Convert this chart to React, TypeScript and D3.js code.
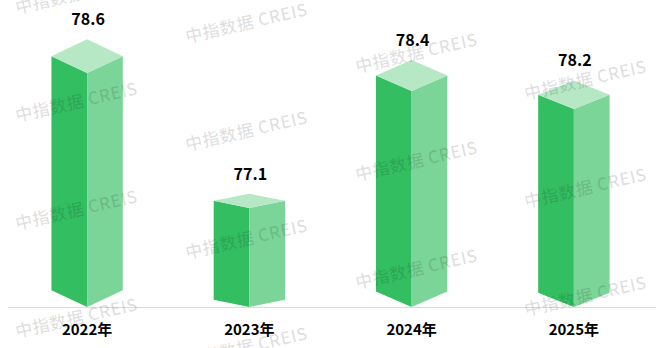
import React from "react";
import * as d3 from "d3";

// Annual index values
const categories = ["2022年", "2023年", "2024年", "2025年"];
const values = [78.6, 77.1, 78.4, 78.2];
const valueLabels = ["78.6", "77.1", "78.4", "78.2"];
const yDomain = [76, 79];

const WIDTH = 661;
const HEIGHT = 348;
const BASELINE = 307;
const TOP = 37;

const COLOR_LEFT = "#34be62";
const COLOR_RIGHT = "#7cd598";
const COLOR_TOP = "#b6e8c6";

const FONT = "'Noto Sans CJK SC', 'Liberation Sans', Arial, sans-serif";

export default function App() {
  const x = d3.scaleBand<string>().domain(categories).range([6, 655]).padding(0);
  const y = d3.scaleLinear().domain(yDomain).range([BASELINE, TOP]);
  const barW = x.bandwidth() * 0.44;
  const depthK = 0.072;

  // watermark grid
  const wmCols = [17, 187, 357, 526];
  const wmOffsets = [14, 43, 73, 100];
  const wmStep = 108;
  const marks: { x: number; y: number }[] = [];
  wmCols.forEach((cx, i) => {
    for (let r = -1; r < 4; r++) {
      const yy = wmOffsets[i] + r * wmStep;
      if (yy > 5 && yy < HEIGHT + 30) marks.push({ x: cx, y: yy });
    }
  });

  return (
    <div style={{ position: "absolute", left: 0, top: 0 }}>
      <svg width={WIDTH} height={HEIGHT} style={{ display: "block", background: "#fff" }}>
        <line x1={8} x2={656} y1={BASELINE + 0.5} y2={BASELINE + 0.5} stroke="#dcdcdc" strokeWidth={1} />
        {categories.map((c, i) => {
          const cx = (x(c) as number) + x.bandwidth() / 2;
          const yf = y(values[i]);
          const d = depthK * (BASELINE - yf);
          const l = cx - barW / 2;
          const r = cx + barW / 2;
          const leftFace = `M${l},${yf - d} L${cx},${yf} L${cx},${BASELINE} L${l},${BASELINE - d} Z`;
          const rightFace = `M${cx},${yf} L${r},${yf - d} L${r},${BASELINE - d} L${cx},${BASELINE} Z`;
          const topFace = `M${l},${yf - d} L${cx},${yf - 2 * d} L${r},${yf - d} L${cx},${yf} Z`;
          return (
            <g key={c}>
              <path d={leftFace} fill={COLOR_LEFT} />
              <path d={rightFace} fill={COLOR_RIGHT} />
              <path d={topFace} fill={COLOR_TOP} />
              <text
                x={cx + 1}
                y={yf - 2 * d - 14}
                textAnchor="middle"
                fontFamily={FONT}
                fontWeight="bold"
                fontSize={16}
                fill="#000"
              >
                {valueLabels[i]}
              </text>
              <text
                x={cx}
                y={335}
                textAnchor="middle"
                fontFamily={FONT}
                fontWeight="bold"
                fontSize={15}
                fill="#000"
              >
                {c}
              </text>
            </g>
          );
        })}
        {marks.map((m, i) => (
          <text
            key={i}
            x={m.x}
            y={m.y}
            transform={`rotate(-13 ${m.x} ${m.y})`}
            fontFamily={FONT}
            fontWeight={500}
            fontSize={17}
            letterSpacing={0.5}
            fill="rgba(0,0,0,0.13)"
          >
            中指数据 CREIS
          </text>
        ))}
      </svg>
    </div>
  );
}
